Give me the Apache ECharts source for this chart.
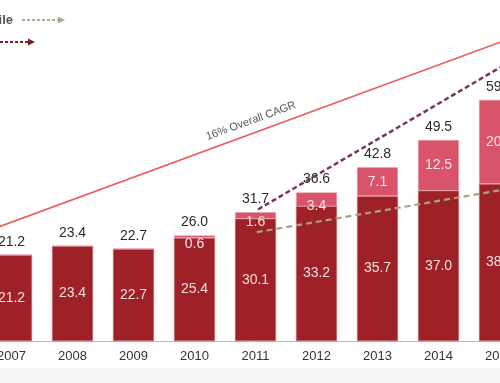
<!DOCTYPE html>
<html>
<head>
<meta charset="utf-8">
<script src="https://cdn.jsdelivr.net/npm/echarts@6/dist/echarts.min.js"></script>
<style>
html,body{margin:0;padding:0;background:#fff;overflow:hidden;width:500px;height:383px;position:relative;}
#chart{width:549px;height:383px;position:absolute;left:-19px;top:0;}
</style>
</head>
<body>
<div id="chart"></div>
<script>
var years = ['2007','2008','2009','2010','2011','2012','2013','2014','2015'];
var baseValues = [21.2, 23.4, 22.7, 25.4, 30.1, 33.2, 35.7, 37.0, 38.7];
var mobileValues = [0, 0, 0, 0.6, 1.6, 3.4, 7.1, 12.5, 20.7];
var totalValues = [21.2, 23.4, 22.7, 26.0, 31.7, 36.6, 42.8, 49.5, 59.4];
// trend lines: [category position, value]
var cagrLine = [[-0.5, 26.5], [8.5, 76.3]];
var mobileTrend = [[4.04, 32.4], [8.5, 71.7]];
var baseTrend = [[4.02, 26.8], [8.5, 38.4]];
var cagrText = '16% Overall CAGR';
var legendLabel = 'Mobile';

var font = '"Liberation Sans", Arial, sans-serif';
var dark = '#9e2127', pink = '#d9546b';
var OX = 19; // chart canvas is shifted left by this many px

var chart = echarts.init(document.getElementById('chart'), null, {renderer: 'canvas'});

var pinkData = mobileValues.map(function (v) {
  if (v === 0) return {value: v, label: {show: false}};
  if (v < 5) return {value: v, label: {offset: [0, 7]}};
  return {value: v};
});

chart.setOption({
  animation: false,
  backgroundColor: '#ffffff',
  grid: {left: 0, right: 0, top: 0, bottom: 42, containLabel: false},
  xAxis: [{
    type: 'category', data: years,
    axisLine: {show: true, lineStyle: {color: '#c9b99b', width: 1}},
    axisTick: {show: false},
    axisLabel: {color: '#333', fontSize: 13, fontFamily: font, margin: 9}
  }, {
    type: 'value', min: -0.5, max: 8.5, show: false
  }],
  yAxis: {type: 'value', min: 0, max: 84, show: false, splitLine: {show: false}},
  series: [{
    type: 'bar', stack: 's', data: baseValues, barWidth: 41, xAxisIndex: 0,
    itemStyle: {color: dark, borderColor: '#c86a70', borderWidth: 0.6},
    label: {show: true, position: 'inside', color: '#f3dede', fontSize: 14, fontFamily: font,
      formatter: function (p) { return p.value.toFixed(1); }}
  }, {
    type: 'bar', stack: 's', data: pinkData, barWidth: 41, xAxisIndex: 0,
    itemStyle: {color: pink, borderColor: '#e9a0aa', borderWidth: 0.6},
    label: {show: true, position: 'inside', color: '#f7e4e7', fontSize: 14, fontFamily: font,
      formatter: function (p) { return p.value.toFixed(1); }}
  }, {
    type: 'bar', stack: 's', data: totalValues.map(function () { return 0; }), barWidth: 41, xAxisIndex: 0,
    itemStyle: {color: 'transparent'},
    label: {show: true, position: 'top', distance: 6, color: '#2b2b2b', fontSize: 14, fontFamily: font,
      formatter: function (p) { return totalValues[p.dataIndex].toFixed(1); }}
  }, {
    type: 'line', xAxisIndex: 1, data: cagrLine, symbol: 'none', z: 5,
    lineStyle: {color: '#ee5a5a', width: 1.6}
  }, {
    type: 'line', xAxisIndex: 1, data: mobileTrend, symbol: 'none', z: 6,
    lineStyle: {color: '#7a3a3e', width: 2.5, type: [5, 3]}
  }, {
    type: 'line', xAxisIndex: 1, data: baseTrend, symbol: 'none', z: 6,
    lineStyle: {color: '#a8a283', width: 2.2, type: [6, 4]}
  }],
  graphic: [
    {type: 'rect', shape: {x: 0, y: 368, width: 549, height: 15}, style: {fill: '#f7f7f7'}, z: -10, silent: true},
    {type: 'text', x: OX + 251, y: 121, rotation: 20 * Math.PI / 180,
      style: {text: cagrText, fill: '#555', font: '11px ' + font, textAlign: 'center', textVerticalAlign: 'middle'}},
    {type: 'text', x: OX + 13, y: 20,
      style: {text: legendLabel, fill: '#555', font: 'bold 13px ' + font, textAlign: 'right', textVerticalAlign: 'middle'}},
    {type: 'line', shape: {x1: OX + 22, y1: 20, x2: OX + 58, y2: 20}, style: {stroke: '#b0aa8c', lineWidth: 2, lineDash: [3, 2]}},
    {type: 'polygon', shape: {points: [[OX + 58, 16.5], [OX + 65, 20], [OX + 58, 23.5]]}, style: {fill: '#b0aa8c'}},
    {type: 'line', shape: {x1: OX + 0, y1: 42, x2: OX + 28, y2: 42}, style: {stroke: '#7b1d22', lineWidth: 2, lineDash: [3, 2]}},
    {type: 'polygon', shape: {points: [[OX + 28, 38.5], [OX + 35, 42], [OX + 28, 45.5]]}, style: {fill: '#7b1d22'}}
  ]
});
</script>
</body>
</html>
